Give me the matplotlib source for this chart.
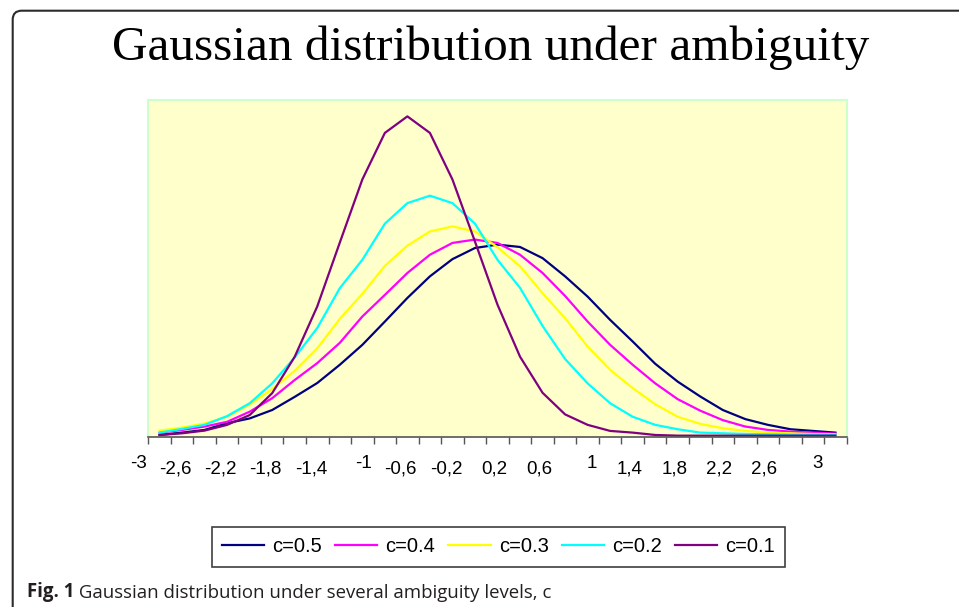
import matplotlib
matplotlib.use("Agg")
import matplotlib.pyplot as plt
import matplotlib.transforms as mtransforms
from matplotlib.patches import FancyBboxPatch

# categories on the x axis (Excel style, decimal comma)
categories = ["-3", "-2,8", "-2,6", "-2,4", "-2,2", "-2", "-1,8", "-1,6", "-1,4", "-1,2",
              "-1", "-0,8", "-0,6", "-0,4", "-0,2", "0", "0,2", "0,4", "0,6", "0,8",
              "1", "1,2", "1,4", "1,6", "1,8", "2", "2,2", "2,4", "2,6", "2,8", "3"]

# (axis units 0..1)
c05 = [0.006, 0.013, 0.021, 0.041, 0.055, 0.080, 0.119, 0.160, 0.214, 0.273,
       0.342, 0.412, 0.476, 0.527, 0.560, 0.570, 0.563, 0.530, 0.476, 0.416,
       0.347, 0.283, 0.217, 0.164, 0.120, 0.080, 0.053, 0.036, 0.023, 0.018, 0.013]
c04 = [0.013, 0.021, 0.031, 0.045, 0.075, 0.115, 0.169, 0.219, 0.279, 0.357,
       0.421, 0.486, 0.540, 0.575, 0.585, 0.575, 0.540, 0.486, 0.418, 0.342,
       0.273, 0.214, 0.159, 0.112, 0.078, 0.050, 0.031, 0.021, 0.016, 0.013, 0.010]
c03 = [0.019, 0.028, 0.040, 0.060, 0.096, 0.142, 0.196, 0.263, 0.350, 0.424,
       0.507, 0.567, 0.609, 0.624, 0.609, 0.562, 0.506, 0.426, 0.352, 0.268,
       0.199, 0.145, 0.097, 0.060, 0.039, 0.026, 0.018, 0.013, 0.011, 0.009, 0.008]
c02 = [0.013, 0.024, 0.036, 0.062, 0.100, 0.159, 0.236, 0.323, 0.441, 0.525,
       0.632, 0.693, 0.715, 0.693, 0.632, 0.525, 0.442, 0.329, 0.231, 0.159,
       0.100, 0.060, 0.036, 0.023, 0.013, 0.011, 0.009, 0.008, 0.007, 0.007, 0.006]
c01 = [0.006, 0.011, 0.019, 0.036, 0.065, 0.130, 0.238, 0.387, 0.576, 0.763,
       0.901, 0.950, 0.901, 0.763, 0.579, 0.392, 0.238, 0.131, 0.067, 0.036,
       0.018, 0.013, 0.006, 0.004, 0.004, 0.004, 0.004, 0.004, 0.004, 0.004, 0.004]

series = [("c=0.5", c05, "#000080"), ("c=0.4", c04, "#FF00FF"),
          ("c=0.3", c03, "#FFFF00"), ("c=0.2", c02, "#00FFFF"),
          ("c=0.1", c01, "#800080")]

plt.rcParams["font.family"] = ["Liberation Sans", "DejaVu Sans"]

W, H = 959, 607
fig = plt.figure(figsize=(W / 100, H / 100), dpi=100)

# outer rounded frame, cropped at right and bottom
frame = FancyBboxPatch((12.7, -60), 1100, H - 10.7 + 60,
                       boxstyle="round,pad=0,rounding_size=9",
                       transform=mtransforms.IdentityTransform(),
                       facecolor="none", edgecolor="#2b2b2b", linewidth=1.5)
fig.add_artist(frame)

fig.text(490.5 / W, 1 - 60 / H, "Gaussian distribution under ambiguity",
         ha="center", va="baseline", family="Liberation Serif", size=35.5)

ax = fig.add_axes([148.3 / W, 1 - 437 / H, (846.7 - 148.3) / W, (437 - 99.5) / H])
ax.set_facecolor("#FFFFCC")
for s in ["top", "left", "right"]:
    ax.spines[s].set_color("#CCFFCC")
    ax.spines[s].set_linewidth(1.5)
ax.spines["bottom"].set_color("#555555")
ax.spines["bottom"].set_linewidth(1.2)

x = list(range(len(categories)))
for name, vals, col in series:
    ax.plot(x, vals, color=col, lw=1.6, label=name)

ax.set_xlim(-0.5, len(categories) - 0.5)
ax.set_ylim(0, 1)
ax.set_yticks([])
ax.set_xticks([i - 0.5 for i in range(len(categories) + 1)])
ax.set_xticklabels([])
ax.tick_params(axis="x", direction="out", length=5, width=1, color="#555555")

# every other category label, drawn the way Excel staggered them
for i in range(0, len(categories), 2):
    lab = categories[i]
    base = -0.092 if "," not in lab else -0.107
    ax.text(i - 0.57, base, lab, transform=ax.get_xaxis_transform(),
            ha="right", va="baseline", size=13.5, clip_on=False)

leg = fig.legend(loc="center", bbox_to_anchor=(498.5 / W, 1 - 547 / H), ncol=5,
                 fontsize=14.5, frameon=True, fancybox=False, edgecolor="#404040",
                 framealpha=1, handlelength=2.1, handletextpad=0.4,
                 columnspacing=0.65, borderpad=0.5)
leg.get_frame().set_linewidth(1.2)

cap = fig.text(27 / W, 1 - 597 / H, "Fig. 1", ha="left", va="baseline",
               family="Open Sans", weight="bold", size=13.4, color="#231f20")
ax.annotate(" Gaussian distribution under several ambiguity levels, c",
            xy=(1, 0), xycoords=cap, ha="left", va="bottom",
            family="Open Sans", size=13.4, color="#231f20", annotation_clip=False)

fig.savefig("out.png", dpi=100)
